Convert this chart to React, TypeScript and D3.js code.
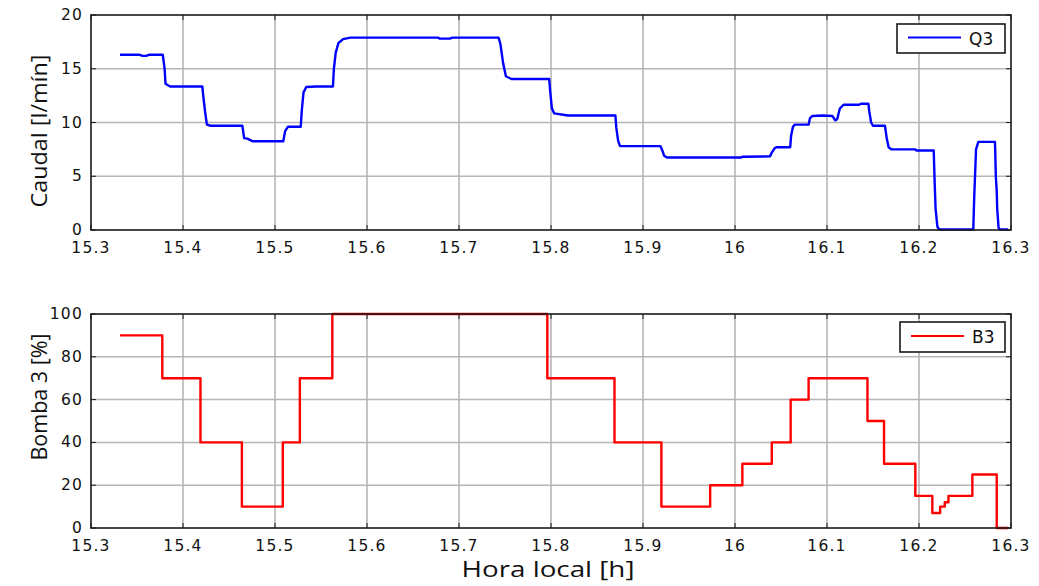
import React from "react";
import * as d3 from "d3";

// Q3 flow readings: hour of day and flow in l/min
const q3Hours = [
  15.3315, 15.353, 15.356, 15.36, 15.363, 15.378, 15.38, 15.381, 15.386, 15.421,
  15.422, 15.424, 15.426, 15.43, 15.4645, 15.4665, 15.47, 15.476, 15.509, 15.511,
  15.514, 15.528, 15.529, 15.531, 15.534, 15.545, 15.563, 15.564, 15.566, 15.569,
  15.574, 15.582, 15.677, 15.679, 15.69, 15.693, 15.743, 15.745, 15.748, 15.751,
  15.757, 15.798, 15.799, 15.801, 15.8035, 15.8185, 15.87, 15.871, 15.873, 15.875,
  15.919, 15.921, 15.923, 15.926, 16.007, 16.008, 16.038, 16.04, 16.043, 16.045,
  16.06, 16.061, 16.063, 16.065, 16.08, 16.0815, 16.084, 16.095, 16.106, 16.109,
  16.111, 16.114, 16.118, 16.135, 16.137, 16.145, 16.146, 16.148, 16.15, 16.163,
  16.165, 16.167, 16.17, 16.196, 16.197, 16.216, 16.217, 16.218, 16.22, 16.222,
  16.259, 16.26, 16.262, 16.2645, 16.2826, 16.2835, 16.2845, 16.285, 16.2865, 16.288,
  16.297,
];
const q3Flow = [
  16.3, 16.3, 16.2, 16.2, 16.3, 16.3, 15.0, 13.6, 13.35, 13.35,
  12.5, 11, 9.8, 9.7, 9.7, 8.55, 8.5, 8.25, 8.25, 9.2,
  9.6, 9.6, 11, 12.8, 13.3, 13.35, 13.35, 15, 16.5, 17.4,
  17.75, 17.9, 17.9, 17.8, 17.8, 17.9, 17.9, 17.3, 15.5, 14.3,
  14.05, 14.05, 13, 11.3, 10.85, 10.65, 10.65, 9.5, 8.3, 7.8,
  7.8, 7.4, 6.9, 6.75, 6.75, 6.82, 6.85, 7.2, 7.6, 7.7,
  7.7, 8.8, 9.6, 9.8, 9.8, 10.4, 10.6, 10.65, 10.6, 10.2,
  10.3, 11.3, 11.65, 11.65, 11.75, 11.75, 11, 10, 9.7, 9.7,
  8.5, 7.7, 7.5, 7.5, 7.4, 7.4, 4.5, 2, 0.3, 0.05,
  0.05, 3, 7.5, 8.2, 8.2, 5, 3.6, 2, 0.2, 0.05,
  0.05,
];

// Pump 3 set point: switching hour and level in %
const b3Hours = [
  15.3315, 15.3775, 15.419, 15.464, 15.5085, 15.527, 15.5623, 15.796, 15.869, 15.92,
  15.973, 16.008, 16.04, 16.0605, 16.08, 16.144, 16.162, 16.196, 16.2145, 16.223,
  16.228, 16.232, 16.258, 16.2845, 16.297,
];
const b3Level = [
  90, 70, 40, 10, 40, 70, 100, 70, 40, 10,
  20, 30, 40, 60, 70, 50, 30, 15, 7, 10,
  12, 15, 25, 0, 0,
];

const hourTicks = [15.3, 15.4, 15.5, 15.6, 15.7, 15.8, 15.9, 16, 16.1, 16.2, 16.3];
const flowTicks = [0, 5, 10, 15, 20];
const pumpTicks = [0, 20, 40, 60, 80, 100];

const W = 1039;
const H = 586;
const left = 91;
const right = 1011;
const tickFont = "'DejaVu Sans', Verdana, sans-serif";
const labelFont = "'Open Sans', 'Noto Sans', sans-serif";

type PanelProps = {
  top: number;
  bottom: number;
  yMax: number;
  yTicks: number[];
  xs: number[];
  ys: number[];
  color: string;
  step: boolean;
  legend: string;
  legendBox: [number, number, number, number];
  yLabel: string;
  yLabelCenter: number;
  yLabelLength: number;
};

function Panel(p: PanelProps) {
  const x = d3.scaleLinear().domain([15.3, 16.3]).range([left, right]);
  const y = d3.scaleLinear().domain([0, p.yMax]).range([p.bottom, p.top]);
  const pts: [number, number][] = p.xs.map((h, i) => [h, p.ys[i]]);
  const line = d3
    .line<[number, number]>()
    .x((d) => x(d[0]))
    .y((d) => y(d[1]))
    .curve(p.step ? d3.curveStepAfter : d3.curveLinear);
  const [lx0, ly0, lx1, ly1] = p.legendBox;
  const frame = "#1a1a1a";
  const tickLen = 5;
  return (
    <g>
      {/* grid */}
      {hourTicks.slice(1, -1).map((t) => (
        <line key={"gx" + t} x1={x(t)} x2={x(t)} y1={p.top} y2={p.bottom} stroke="#8a8a8a" strokeWidth={1} />
      ))}
      {p.yTicks.slice(1, -1).map((t) => (
        <line key={"gy" + t} x1={left} x2={right} y1={y(t)} y2={y(t)} stroke="#b5b5b5" strokeWidth={1.5} />
      ))}
      {/* ticks on all four sides, pointing inward */}
      {hourTicks.map((t) => (
        <g key={"tx" + t}>
          <line x1={x(t)} x2={x(t)} y1={p.bottom} y2={p.bottom - tickLen} stroke={frame} strokeWidth={1} />
          <line x1={x(t)} x2={x(t)} y1={p.top} y2={p.top + tickLen} stroke={frame} strokeWidth={1} />
        </g>
      ))}
      {p.yTicks.map((t) => (
        <g key={"ty" + t}>
          <line x1={left} x2={left + tickLen} y1={y(t)} y2={y(t)} stroke={frame} strokeWidth={1} />
          <line x1={right} x2={right - tickLen} y1={y(t)} y2={y(t)} stroke={frame} strokeWidth={1} />
        </g>
      ))}
      {/* data */}
      <path d={line(pts) ?? ""} fill="none" stroke={p.color} strokeWidth={2.4} strokeLinejoin="round" />
      {/* frame */}
      <rect x={left} y={p.top} width={right - left} height={p.bottom - p.top} fill="none" stroke={frame} strokeWidth={1.6} />
      {/* tick labels */}
      {hourTicks.map((t) => (
        <text key={"lx" + t} x={x(t)} y={p.bottom + 22.5} textAnchor="middle" fontFamily={tickFont} fontSize={15.5} letterSpacing={1.2} fill="#111">
          {d3.format("~g")(t)}
        </text>
      ))}
      {p.yTicks.map((t) => (
        <text key={"ly" + t} x={left - 8} y={y(t) + 5} textAnchor="end" fontFamily={tickFont} fontSize={15.5} letterSpacing={1.2} fill="#111">
          {t}
        </text>
      ))}
      {/* y label */}
      <text
        transform={`translate(47,${p.yLabelCenter}) rotate(-90)`}
        textAnchor="middle"
        fontFamily={labelFont}
        fontSize={21}
        textLength={p.yLabelLength}
        lengthAdjust="spacingAndGlyphs"
        fill="#111"
      >
        {p.yLabel}
      </text>
      {/* legend */}
      <rect x={lx0} y={ly0} width={lx1 - lx0} height={ly1 - ly0} fill="#fff" stroke={frame} strokeWidth={1.6} />
      <line x1={lx0 + 11} x2={lx0 + 64} y1={(ly0 + ly1) / 2 - 1} y2={(ly0 + ly1) / 2 - 1} stroke={p.color} strokeWidth={2.2} />
      <text x={lx0 + 72} y={(ly0 + ly1) / 2 + 6} fontFamily={tickFont} fontSize={17} fill="#111">
        {p.legend}
      </text>
    </g>
  );
}

export default function App() {
  return (
    <svg width={W} height={H} style={{ position: "absolute", left: 0, top: 0, background: "#fff" }}>
      <Panel
        top={15}
        bottom={230}
        yMax={20}
        yTicks={flowTicks}
        xs={q3Hours}
        ys={q3Flow}
        color="#0000ff"
        step={false}
        legend="Q3"
        legendBox={[897, 24, 1005, 53]}
        yLabel="Caudal [l/mín]"
        yLabelCenter={131}
        yLabelLength={153}
      />
      <Panel
        top={314}
        bottom={528}
        yMax={100}
        yTicks={pumpTicks}
        xs={b3Hours}
        ys={b3Level}
        color="#ff0000"
        step={true}
        legend="B3"
        legendBox={[900, 322, 1005, 352]}
        yLabel="Bomba 3 [%]"
        yLabelCenter={397}
        yLabelLength={127}
      />
      <text x={548} y={577} textAnchor="middle" fontFamily={labelFont} fontSize={21} textLength={173} lengthAdjust="spacingAndGlyphs" fill="#111">
        Hora local [h]
      </text>
    </svg>
  );
}
